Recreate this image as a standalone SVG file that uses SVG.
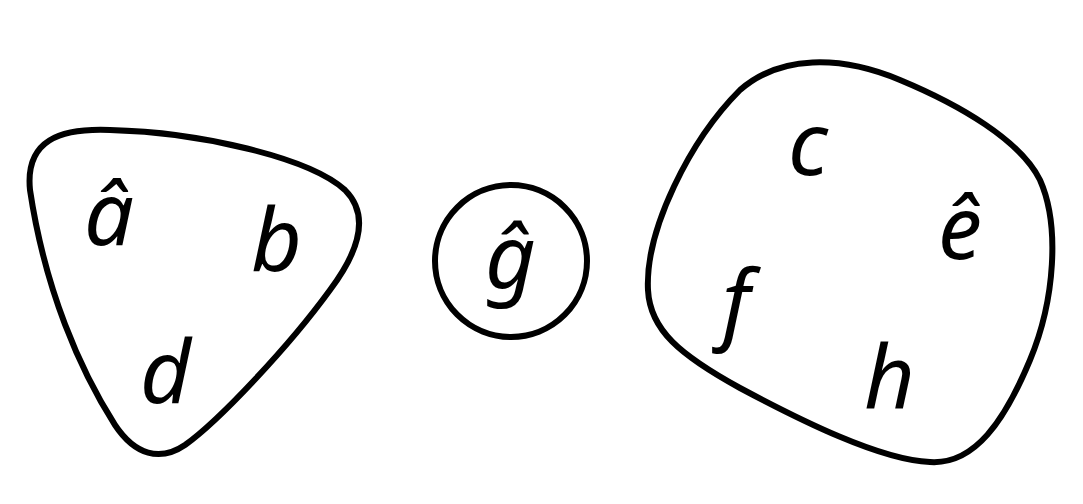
<svg xmlns="http://www.w3.org/2000/svg" width="1083" height="504" viewBox="0 0 1083 504">
<style>
.b{fill:none;stroke:#000;stroke-width:6;stroke-linejoin:round}
.t{font-family:"Noto Sans","Open Sans",sans-serif;font-style:italic;font-size:88px;fill:#000}
</style>
<rect width="1083" height="504" fill="#fff"/>
<g id="set1">
<path class="b" d="M 30,190 C 25,140 60,128 110,130 C 200,132 310,158 345,190 C 370,215 360,250 330,290 C 290,345 220,420 185,445 C 160,462 135,455 115,425 C 80,370 45,290 30,190 Z"/>
<text class="t" x="84" y="245">â</text>
<text class="t" x="251" y="271">b</text>
<text class="t" x="140" y="403">d</text>
</g>
<g id="set2">
<circle class="b" cx="511" cy="261" r="76"/>
<text class="t" x="485" y="288">ĝ</text>
</g>
<g id="set3">
<path class="b" d="M 648,290 C 645,230 690,140 740,90 C 780,55 840,55 900,80 C 960,105 1020,140 1040,180 C 1060,225 1055,300 1030,360 C 1005,420 975,465 930,462 C 880,460 800,420 740,388 C 680,355 650,330 648,290 Z"/>
<text class="t" x="788" y="175">c</text>
<text class="t" x="938" y="259">ê</text>
<text class="t" x="722" y="333">f</text>
<text class="t" x="864" y="409">h</text>
</g>
<g id="connectors"/>
</svg>
